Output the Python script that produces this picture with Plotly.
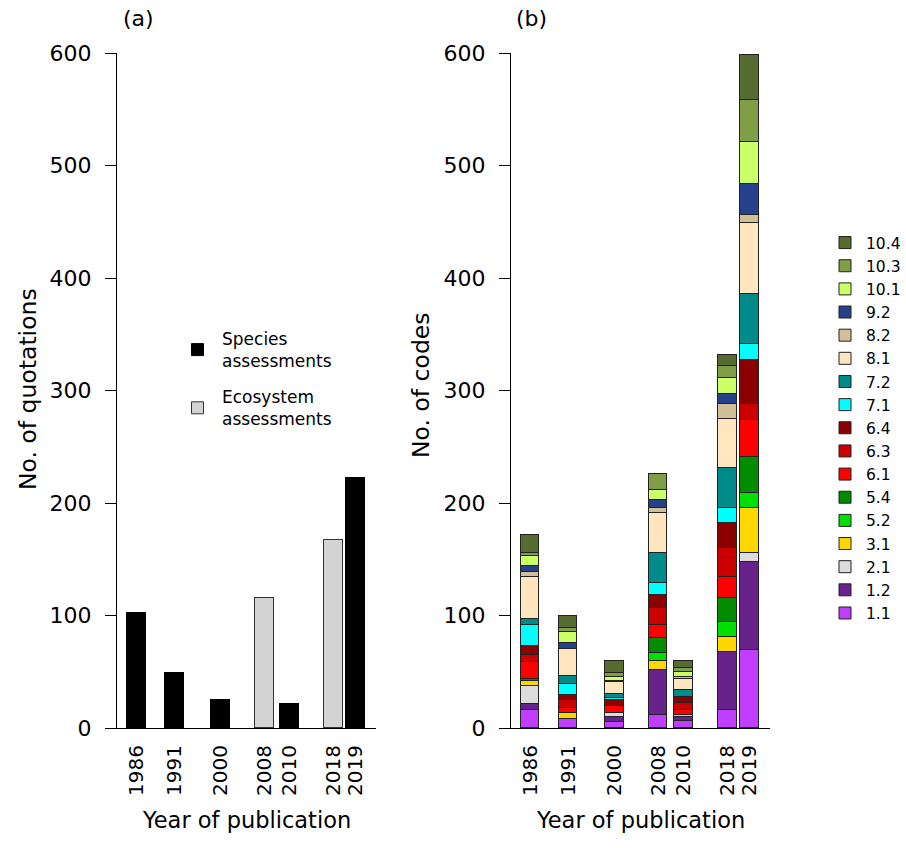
import plotly.graph_objects as go

# ---------------- data ----------------
years = ["1986", "1991", "2000", "2008", "2010", "2018", "2019"]

species_assessments = [102, 49, 25, None, 21, None, 222]
ecosystem_assessments = [None, None, None, 116, None, 167, None]

codes = ["1.1", "1.2", "2.1", "3.1", "5.2", "5.4", "6.1", "6.3", "6.4",
         "7.1", "7.2", "8.1", "8.2", "9.2", "10.1", "10.3", "10.4"]

# values per code, in order of `years`
code_1_1 = [16, 8, 5, 12, 6, 16, 69]
code_1_2 = [5, 0, 5, 40, 4, 52, 79]
code_2_1 = [16, 0, 3, 0, 0, 0, 8]
code_3_1 = [5, 5, 0, 8, 2, 13, 40]
code_5_2 = [0, 0, 0, 7, 0, 13, 13]
code_5_4 = [2, 0, 0, 13, 0, 22, 32]
code_6_1 = [15, 5, 7, 12, 4, 18, 33]
code_6_3 = [6, 7, 0, 15, 6, 26, 14]
code_6_4 = [8, 4, 5, 11, 6, 22, 39]
code_7_1 = [19, 10, 2, 11, 0, 14, 14]
code_7_2 = [5, 7, 3, 27, 6, 35, 45]
code_8_1 = [37, 24, 11, 35, 10, 44, 63]
code_8_2 = [5, 0, 0, 5, 1, 13, 7]
code_9_2 = [5, 6, 1, 7, 0, 9, 28]
code_10_1 = [9, 9, 3, 9, 5, 14, 37]
code_10_3 = [3, 4, 4, 14, 3, 11, 37]
code_10_4 = [16, 11, 11, 0, 7, 10, 40]

code_values = [code_1_1, code_1_2, code_2_1, code_3_1, code_5_2, code_5_4,
               code_6_1, code_6_3, code_6_4, code_7_1, code_7_2, code_8_1,
               code_8_2, code_9_2, code_10_1, code_10_3, code_10_4]

y_ticks = [0, 100, 200, 300, 400, 500, 600]

# ---------------- styles / layout ----------------
code_colors = ["#BF3EFF", "#68228B", "#DCDCDC", "#FFD700", "#00E000", "#008B00",
               "#FF0000", "#CD0000", "#8B0000", "#00FFFF", "#008B8B", "#FFE6BF",
               "#D2BE98", "#27408B", "#CCFF66", "#7F9E45", "#556B2F"]

# bar slot centres along each panel's x axis (axis units, panel spans 0..259)
slots = [19, 57, 103.5, 147, 172.7, 216.5, 238.3]
bar_w = 19

FONT = "DejaVu Sans, Arial, sans-serif"
W, H = 906, 848

fig = go.Figure()

def nz(vals):
    return [v if v else None for v in vals]

# panel (a)
fig.add_trace(go.Bar(
    x=slots, y=species_assessments, width=bar_w, name="Species<br>assessments",
    marker=dict(color="black", line=dict(color="black", width=1)),
    xaxis="x", yaxis="y", legend="legend2", legendgroup="sp", showlegend=True))
fig.add_trace(go.Bar(
    x=slots, y=ecosystem_assessments, width=bar_w, name="Ecosystem<br>assessments",
    marker=dict(color="#D3D3D3", line=dict(color="#333333", width=1)),
    xaxis="x", yaxis="y", legend="legend2", legendgroup="eco", showlegend=True))

# panel (b)
for code, vals, col in zip(codes, code_values, code_colors):
    fig.add_trace(go.Bar(
        x=slots, y=nz(vals), width=bar_w - 0.5, name=code,
        marker=dict(color=col, line=dict(color="#222222", width=1)),
        xaxis="x2", yaxis="y2", legend="legend"))

xa = dict(range=[0, 259], showline=True, linecolor="black", linewidth=1,
          ticks="", tickmode="array", tickvals=slots, ticktext=years,
          tickangle=-90, tickfont=dict(family=FONT, size=20, color="black"),
          ticklabelstandoff=8, showgrid=False, zeroline=False, automargin=False)
ya = dict(range=[0, 600], showline=True, linecolor="black", linewidth=1,
          ticks="outside", ticklen=11, tickcolor="black", tickwidth=1,
          tickmode="array", tickvals=y_ticks,
          tickfont=dict(family=FONT, size=22, color="black"),
          ticklabelstandoff=9, showgrid=False, zeroline=False, automargin=False)

ydom = [(H - 728) / H, (H - 53) / H]
fig.update_layout(
    width=W, height=H,
    margin=dict(l=0, r=0, t=0, b=0, autoexpand=False),
    paper_bgcolor="white", plot_bgcolor="white",
    barmode="stack", bargap=0,
    font=dict(family=FONT, color="black"),
    xaxis=dict(xa, domain=[117 / W, 376 / W], anchor="y"),
    yaxis=dict(ya, domain=ydom, anchor="x"),
    xaxis2=dict(xa, domain=[511 / W, 770 / W], anchor="y2"),
    yaxis2=dict(ya, domain=ydom, anchor="x2"),
    legend=dict(x=824 / W, y=(H - 226) / H, xanchor="left", yanchor="top",
                traceorder="reversed", itemwidth=32,
                font=dict(family=FONT, size=15.5, color="black"),
                bgcolor="rgba(0,0,0,0)"),
    legend2=dict(x=173 / W, y=(H - 321) / H, xanchor="left", yanchor="top",
                 traceorder="grouped", tracegroupgap=11, itemwidth=39,
                 font=dict(family=FONT, size=17, color="black"),
                 bgcolor="rgba(0,0,0,0)"),
    showlegend=True,
)

ann = [
    dict(text="(a)", x=138 / W, y=(H - 18) / H, size=22),
    dict(text="(b)", x=531 / W, y=(H - 18) / H, size=22),
    dict(text="Year of publication", x=246.5 / W, y=(H - 820) / H, size=22.5),
    dict(text="Year of publication", x=640.5 / W, y=(H - 820) / H, size=22.5),
]
for a in ann:
    fig.add_annotation(text=a["text"], x=a["x"], y=a["y"], xref="paper", yref="paper",
                       showarrow=False, xanchor="center", yanchor="middle",
                       font=dict(family=FONT, size=a["size"], color="black"))
fig.add_annotation(text="No. of quotations", x=28 / W, y=(H - 389) / H,
                   xref="paper", yref="paper", showarrow=False, textangle=-90,
                   xanchor="center", yanchor="middle",
                   font=dict(family=FONT, size=23.5, color="black"))
fig.add_annotation(text="No. of codes", x=421 / W, y=(H - 385) / H,
                   xref="paper", yref="paper", showarrow=False, textangle=-90,
                   xanchor="center", yanchor="middle",
                   font=dict(family=FONT, size=23.5, color="black"))

fig.write_html("out.html", config={"displayModeBar": False},
               post_script="document.body.style.margin='0';"
                           "document.body.style.overflow='hidden';")
